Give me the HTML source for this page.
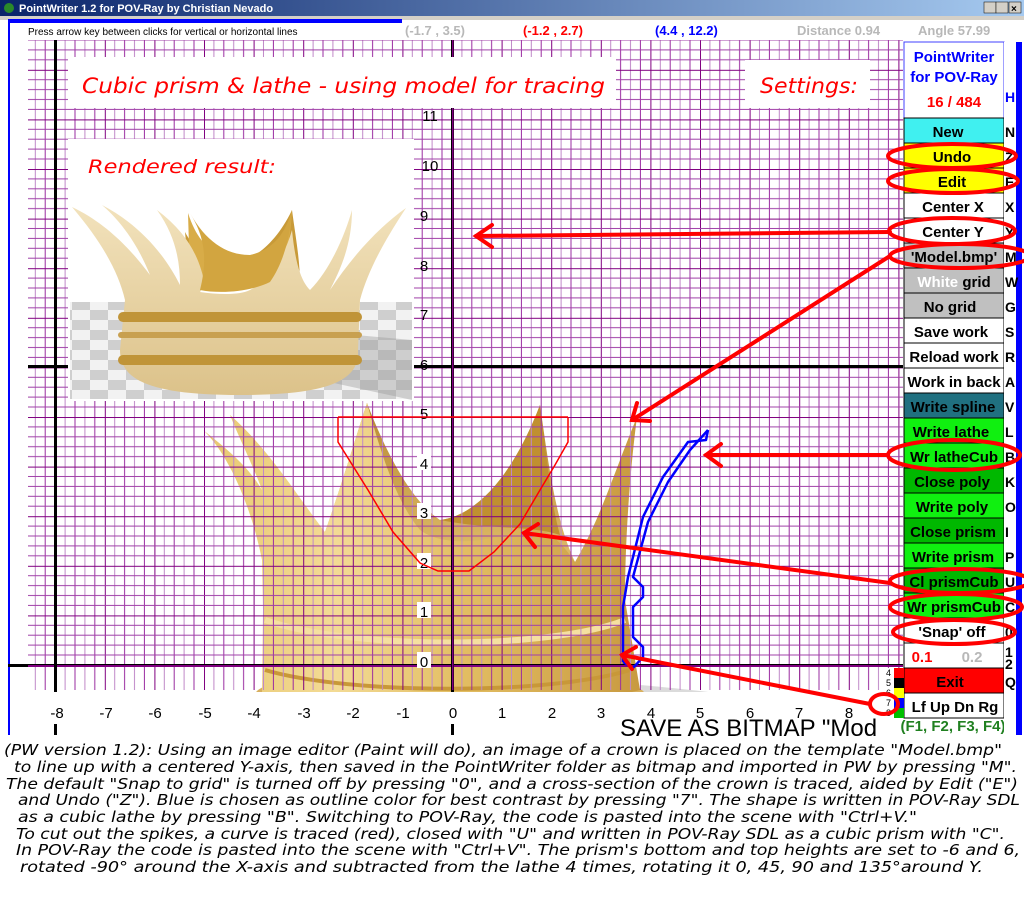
<!DOCTYPE html>
<html><head><meta charset="utf-8"><style>
html,body{margin:0;padding:0;background:#fff;}
svg{display:block}
</style></head><body>
<svg width="1024" height="900" viewBox="0 0 1024 900" xmlns="http://www.w3.org/2000/svg">
<defs>
<linearGradient id="tb" x1="0" x2="1"><stop offset="0" stop-color="#0a246a"/><stop offset="1" stop-color="#a6caf0"/></linearGradient>
<linearGradient id="gold" x1="0" y1="0" x2="1" y2="0"><stop offset="0" stop-color="#e8c870"/><stop offset="0.3" stop-color="#f3db95"/><stop offset="0.6" stop-color="#e2bd62"/><stop offset="1" stop-color="#c89a40"/></linearGradient>
<linearGradient id="goldv" x1="0" y1="0" x2="0" y2="1"><stop offset="0" stop-color="#b88a30"/><stop offset="1" stop-color="#e8c878"/></linearGradient>
<linearGradient id="gold2" x1="0" y1="0" x2="0" y2="1"><stop offset="0" stop-color="#f2e2bc"/><stop offset="1" stop-color="#dcc28a"/></linearGradient>
<pattern id="pv" patternUnits="userSpaceOnUse" x="5.6" y="0" width="49.6" height="900">
<rect x="-1" width="2" height="900" fill="#800080"/>
<rect x="9.4" width="1" height="900" fill="#c088c8"/>
<rect x="19.3" width="1" height="900" fill="#9a2ca0"/>
<rect x="29.2" width="1" height="900" fill="#c088c8"/>
<rect x="39.1" width="1" height="900" fill="#9a2ca0"/>
</pattern>
<pattern id="ph" patternUnits="userSpaceOnUse" x="0" y="20.2" width="1024" height="49.6">
<rect y="-1" width="1024" height="2" fill="#800080"/>
<rect y="9.4" width="1024" height="1" fill="#a040a8"/>
<rect y="19.3" width="1024" height="1" fill="#a040a8"/>
<rect y="29.2" width="1024" height="1" fill="#a040a8"/>
<rect y="39.1" width="1024" height="1" fill="#a040a8"/>
</pattern>
<pattern id="chk" patternUnits="userSpaceOnUse" width="36" height="20"><rect width="36" height="20" fill="#f2f2f2"/><rect width="18" height="10" fill="#cfcfcf"/><rect x="18" y="10" width="18" height="10" fill="#cfcfcf"/></pattern>
</defs>

<!-- title bar -->
<rect x="0" y="0" width="1024" height="16" fill="url(#tb)"/>
<circle cx="9" cy="8" r="5" fill="#2a8a2a"/>
<text x="19" y="12" font-family="Liberation Sans, sans-serif" font-weight="bold" font-size="11" fill="#fff">PointWriter 1.2 for POV-Ray by Christian Nevado</text>
<rect x="984" y="2" width="12" height="11" fill="#d4d0c8" stroke="#000" stroke-width="0.5"/>
<rect x="996" y="2" width="12" height="11" fill="#d4d0c8" stroke="#000" stroke-width="0.5"/>
<rect x="1009" y="2" width="12" height="11" fill="#d4d0c8" stroke="#000" stroke-width="0.5"/>
<text x="1011" y="12" font-family="Liberation Sans" font-size="10" font-weight="bold">×</text>
<rect x="0" y="16" width="1024" height="4" fill="#d4d0c8"/>
<rect x="8" y="19" width="394" height="4" fill="#0000ff"/>
<rect x="8" y="19" width="2" height="716" fill="#0000ff"/>

<!-- top texts -->
<text x="28" y="35" font-family="Liberation Sans, sans-serif" font-size="10" fill="#000">Press arrow key between clicks for vertical or horizontal lines</text>
<g font-family="Liberation Sans, sans-serif" font-weight="bold" font-size="13">
<text x="405" y="35" fill="#b8b8b8">(-1.7 , 3.5)</text>
<text x="523" y="35" fill="#ff0000">(-1.2 , 2.7)</text>
<text x="655" y="35" fill="#0000ff">(4.4 , 12.2)</text>
<text x="797" y="35" fill="#b8b8b8">Distance 0.94</text>
<text x="918" y="35" fill="#b8b8b8">Angle 57.99</text>
</g>

<!-- crown model (under grid) -->
<path d="M 640 685 C 700 690 770 700 770 700 L 650 715 Z" fill="#999" opacity="0.35"/>
<ellipse cx="450" cy="695" rx="195" ry="28" fill="#d8b060"/>
<path d="M 325 532 C 340 490 355 440 367 403 C 385 450 410 500 440 520 C 480 515 515 470 540 405 C 548 460 555 520 575 562 L 560 600 L 330 600 Z" fill="url(#goldv)"/>
<path d="M 263 610 L 262 560 C 250 500 225 450 203 430 C 235 455 250 470 262 490 C 255 470 240 440 230 415 C 270 450 300 500 325 532 C 340 490 355 440 367 403 C 380 450 395 500 420 530 C 440 545 480 545 520 530 C 540 520 560 540 575 562 C 600 520 615 470 637 417 C 630 470 625 540 625 600 L 640 690 C 560 712 330 712 262 695 Z" fill="url(#gold)"/>
<path d="M 440 520 C 480 515 515 470 540 405 C 546 450 550 500 560 535 C 530 525 490 530 440 520 Z" fill="#c09030"/>
<path d="M 265 620 C 350 650 550 650 625 620" stroke="#f5e0a0" stroke-width="6" fill="none"/>
<path d="M 265 670 C 350 695 550 695 630 670" stroke="#c89838" stroke-width="4" fill="none"/>

<!-- grid -->
<rect x="28" y="40" width="875" height="650" fill="url(#pv)"/>
<rect x="28" y="40" width="875" height="626" fill="url(#ph)"/>
<rect x="28" y="365" width="875" height="3" fill="#000"/>
<rect x="8" y="664" width="895" height="3" fill="#000"/>
<rect x="28" y="665" width="875" height="2" fill="#800080"/>
<rect x="54" y="40" width="3" height="695" fill="#000"/>
<rect x="451" y="40" width="3" height="695" fill="#000"/>
<rect x="452" y="40" width="1.5" height="650" fill="#800080"/>

<!-- label boxes -->
<rect x="28" y="692" width="875" height="32" fill="#fff"/>
<g font-family="Liberation Sans, sans-serif" font-size="15" text-anchor="middle" fill="#000">
<text x="57" y="718">-8</text><text x="106" y="718">-7</text><text x="155" y="718">-6</text><text x="205" y="718">-5</text><text x="254" y="718">-4</text><text x="304" y="718">-3</text><text x="353" y="718">-2</text><text x="403" y="718">-1</text><text x="453" y="718">0</text><text x="502" y="718">1</text><text x="552" y="718">2</text><text x="601" y="718">3</text><text x="651" y="718">4</text><text x="700" y="718">5</text><text x="750" y="718">6</text><text x="799" y="718">7</text><text x="849" y="718">8</text>
</g>
<g font-family="Liberation Sans, sans-serif" font-size="15" text-anchor="middle" fill="#000">
<rect x="417" y="652" width="14" height="16" fill="#fff"/><text x="424" y="667">0</text>
<rect x="417" y="602" width="14" height="16" fill="#fff"/><text x="424" y="617">1</text>
<rect x="417" y="553" width="14" height="16" fill="#fff"/><text x="424" y="568">2</text>
<rect x="417" y="503" width="14" height="16" fill="#fff"/><text x="424" y="518">3</text>
<rect x="417" y="454" width="14" height="16" fill="#fff"/><text x="424" y="469">4</text>
<text x="424" y="419">5</text><text x="424" y="370">6</text><text x="424" y="320">7</text><text x="424" y="271">8</text><text x="424" y="221">9</text>
<text x="430" y="171">10</text><text x="430" y="121">11</text><text x="430" y="72">12</text>
</g>
<text x="620" y="736" font-family="Liberation Sans, sans-serif" font-size="24" fill="#000">SAVE AS BITMAP "Mod</text>
<rect x="903" y="700" width="121" height="40" fill="#fff"/>

<!-- title banners -->
<rect x="68" y="57" width="548" height="51" fill="#fff"/>
<text x="82" y="93" font-family="DejaVu Sans, sans-serif" font-style="italic" font-size="21" fill="#ff0000" textLength="523" lengthAdjust="spacingAndGlyphs">Cubic prism &amp; lathe - using model for tracing</text>
<rect x="745" y="60" width="125" height="48" fill="#fff"/>
<text x="760" y="93" font-family="DejaVu Sans, sans-serif" font-style="italic" font-size="21" fill="#ff0000" textLength="98" lengthAdjust="spacingAndGlyphs">Settings:</text>

<!-- rendered result -->
<rect x="68" y="139" width="346" height="262" fill="#fff"/>
<rect x="70" y="302" width="342" height="97" fill="url(#chk)"/>
<path d="M 300 330 L 412 340 L 412 400 L 320 380 Z" fill="#999" opacity="0.4"/>
<text x="88" y="173" font-family="DejaVu Sans, sans-serif" font-style="italic" font-size="19" fill="#ff0000" textLength="188" lengthAdjust="spacingAndGlyphs">Rendered result:</text>
<path d="M 185 232 C 200 260 215 260 250 258 C 265 250 280 235 292 210 C 296 240 300 260 300 285 L 190 285 Z" fill="#c89a38"/>
<path d="M 188 213 C 200 250 220 260 250 260 C 270 255 285 240 292 210 C 290 245 285 270 270 280 L 190 280 Z" fill="#d8ac48"/>
<path d="M 125 300 C 118 270 100 240 72 207 C 110 225 135 255 150 275 C 140 250 125 225 102 205 C 140 225 165 255 180 285 C 180 260 175 235 157 210 C 190 235 200 260 205 285 L 200 292 C 220 295 240 295 250 290 C 270 280 285 255 292 230 C 295 260 300 280 310 290 C 330 270 345 235 352 210 C 352 245 340 270 330 290 C 350 260 375 230 406 208 C 385 240 368 270 360 300 L 358 350 C 360 380 330 395 240 395 C 150 395 120 380 120 350 Z" fill="url(#gold2)"/>
<path d="M 200 290 C 210 250 200 230 190 213 C 205 240 225 255 250 255 C 272 250 285 235 292 210 C 290 240 282 265 270 282 C 250 292 220 294 200 290 Z" fill="#d2a540"/>
<rect x="118" y="312" width="244" height="10" rx="5" fill="#c09438"/>
<rect x="118" y="332" width="244" height="6" rx="3" fill="#c8a050"/>
<rect x="118" y="355" width="244" height="10" rx="5" fill="#c09438"/>

<!-- red trace -->
<g stroke="#ff0000" stroke-width="1.5" fill="none">
<polyline points="338,417 568,417"/>
<polyline points="338,417 338,442 368,490 393,532 420,563 438,571 469,571 494,552 520,524 540,490 555,465 568,442 568,417"/>
</g>
<!-- blue trace -->
<g stroke="#0000ff" stroke-width="2.5" fill="none" stroke-linejoin="round">
<polyline points="623,662 633,668 643,657 643,647 633,637 633,607 643,597 643,587 633,577 648,522 668,482 690,450 708,430"/>
<polyline points="708,430 706,440 688,442 663,477 643,517 628,577 623,607 623,637 623,662"/>
</g>

<!-- right panel -->
<g font-family="Liberation Sans, sans-serif" font-weight="bold" font-size="15" text-anchor="middle">
<rect x="904" y="42" width="100" height="76" fill="#fff" stroke="#4040ff" stroke-width="1"/>
<text x="954" y="62" fill="#0000ff">PointWriter</text>
<text x="954" y="82" fill="#0000ff">for POV-Ray</text>
<text x="954" y="107" fill="#ff0000">16  /  484</text>
<rect x="904" y="118" width="100" height="25" fill="#40f0f0" stroke="#000"/><text x="948" y="137">New</text>
<rect x="904" y="143" width="100" height="25" fill="#ffff00" stroke="#000"/><text x="952" y="162">Undo</text>
<rect x="904" y="168" width="100" height="25" fill="#ffff00" stroke="#000"/><text x="952" y="187">Edit</text>
<rect x="904" y="193" width="100" height="25" fill="#fff" stroke="#000"/><text x="953" y="212">Center X</text>
<rect x="904" y="218" width="100" height="25" fill="#fff" stroke="#000"/><text x="953" y="237">Center Y</text>
<rect x="904" y="243" width="100" height="25" fill="#c0c0c0" stroke="#000"/><text x="954" y="262">'Model.bmp'</text>
<rect x="904" y="268" width="100" height="25" fill="#c0c0c0" stroke="#000"/><text x="954" y="287"><tspan fill="#fff">White</tspan>  grid</text>
<rect x="904" y="293" width="100" height="25" fill="#c0c0c0" stroke="#000"/><text x="950" y="312">No grid</text>
<rect x="904" y="318" width="100" height="25" fill="#fff" stroke="#000"/><text x="951" y="337">Save work</text>
<rect x="904" y="343" width="100" height="25" fill="#fff" stroke="#000"/><text x="954" y="362">Reload work</text>
<rect x="904" y="368" width="100" height="25" fill="#fff" stroke="#000"/><text x="954" y="387">Work in back</text>
<rect x="904" y="393" width="100" height="25" fill="#207080" stroke="#000"/><text x="953" y="412">Write spline</text>
<rect x="904" y="418" width="100" height="25" fill="#10f010" stroke="#000"/><text x="951" y="437">Write lathe</text>
<rect x="904" y="443" width="100" height="25" fill="#10f010" stroke="#000"/><text x="954" y="462">Wr latheCub</text>
<rect x="904" y="468" width="100" height="25" fill="#00b800" stroke="#000"/><text x="952" y="487">Close poly</text>
<rect x="904" y="493" width="100" height="25" fill="#10f010" stroke="#000"/><text x="952" y="512">Write poly</text>
<rect x="904" y="518" width="100" height="25" fill="#00b800" stroke="#000"/><text x="953" y="537">Close prism</text>
<rect x="904" y="543" width="100" height="25" fill="#10f010" stroke="#000"/><text x="953" y="562">Write prism</text>
<rect x="904" y="568" width="100" height="25" fill="#00b800" stroke="#000"/><text x="954" y="587">Cl prismCub</text>
<rect x="904" y="593" width="100" height="25" fill="#10f010" stroke="#000"/><text x="954" y="612">Wr prismCub</text>
<rect x="904" y="618" width="100" height="25" fill="#fff" stroke="#000"/><text x="952" y="637">'Snap' off</text>
<rect x="904" y="643" width="100" height="25" fill="#fff" stroke="#000"/><text x="922" y="662" fill="#ff0000">0.1</text><text x="972" y="662" fill="#b8b8b8">0.2</text>
<rect x="904" y="668" width="100" height="25" fill="#ff0000" stroke="#000"/><text x="950" y="687">Exit</text>
<rect x="904" y="693" width="100" height="25" fill="#fff" stroke="#000"/><text x="955" y="712">Lf Up Dn Rg</text>
<text x="953" y="731" fill="#208020">(F1, F2, F3, F4)</text>
</g>
<rect x="1004" y="42" width="12" height="693" fill="#fff"/>
<rect x="1016" y="42" width="6" height="693" fill="#0000ff"/>
<g font-family="Liberation Sans, sans-serif" font-weight="bold" font-size="14" fill="#000">
<text x="1005" y="102" fill="#0000ff">H</text>
<text x="1005" y="137">N</text><text x="1005" y="162">Z</text><text x="1005" y="187">E</text><text x="1005" y="212">X</text><text x="1005" y="237">Y</text><text x="1005" y="262">M</text><text x="1005" y="287">W</text><text x="1005" y="312">G</text><text x="1005" y="337">S</text><text x="1005" y="362">R</text><text x="1005" y="387">A</text><text x="1005" y="412">V</text><text x="1005" y="437">L</text><text x="1005" y="462">B</text><text x="1005" y="487">K</text><text x="1005" y="512">O</text><text x="1005" y="537">I</text><text x="1005" y="562">P</text><text x="1005" y="587">U</text><text x="1005" y="612">C</text><text x="1005" y="637">0</text><text x="1005" y="657">1</text><text x="1005" y="669">2</text><text x="1005" y="687">Q</text>
</g>
<!-- color swatches -->
<rect x="880" y="668" width="24" height="50" fill="#fff"/>
<g font-family="Liberation Sans, sans-serif" font-size="9" fill="#000">
<text x="886" y="676">4</text><text x="886" y="686">5</text><text x="886" y="696">6</text><text x="886" y="706">7</text><text x="886" y="716">8</text>
</g>
<rect x="894" y="668" width="10" height="10" fill="#ff0000"/>
<rect x="894" y="678" width="10" height="10" fill="#000"/>
<rect x="894" y="688" width="10" height="10" fill="#ffff00"/>
<rect x="894" y="698" width="10" height="10" fill="#0000ff"/>
<rect x="894" y="708" width="10" height="10" fill="#00c000"/>

<!-- red ellipses -->
<g stroke="#ff0000" stroke-width="4" fill="none">
<ellipse cx="952" cy="156" rx="64" ry="12"/>
<ellipse cx="953" cy="181" rx="65" ry="12"/>
<ellipse cx="952" cy="231" rx="63" ry="13"/>
<ellipse cx="960" cy="256" rx="70" ry="12"/>
<ellipse cx="954" cy="455" rx="66" ry="15"/>
<ellipse cx="960" cy="581" rx="70" ry="12"/>
<ellipse cx="956" cy="607" rx="66" ry="13"/>
<ellipse cx="954" cy="632" rx="61" ry="12"/>
<ellipse cx="884" cy="704" rx="14" ry="10"/>
</g>
<!-- red arrows -->
<g stroke="#ff0000" stroke-width="4" fill="none" stroke-linecap="round">
<line x1="890" y1="232" x2="476" y2="236"/><polyline points="492,225 476,236 492,247"/>
<line x1="890" y1="256" x2="632" y2="420"/><polyline points="637,403 632,420 650,421"/>
<line x1="888" y1="455" x2="706" y2="455"/><polyline points="721,444 706,455 721,466"/>
<line x1="890" y1="583" x2="524" y2="533"/><polyline points="538,524 524,533 535,547"/>
<line x1="870" y1="704" x2="622" y2="655"/><polyline points="636,647 622,655 632,669"/>
</g>

<!-- bottom text -->
<rect x="0" y="738" width="1024" height="162" fill="#fff"/>
<g font-family="DejaVu Sans, sans-serif" font-style="italic" font-size="15.5" fill="#000">
<text x="4" y="755" textLength="998" lengthAdjust="spacingAndGlyphs">(PW version 1.2): Using an image editor (Paint will do), an image of a crown is placed on the template "Model.bmp"</text>
<text x="14" y="772" textLength="1003" lengthAdjust="spacingAndGlyphs">to line up with a centered Y-axis, then saved in the PointWriter folder as bitmap and imported in PW by pressing "M".</text>
<text x="6" y="789" textLength="1012" lengthAdjust="spacingAndGlyphs">The default "Snap to grid" is turned off by pressing "0", and a cross-section of the crown is traced, aided by Edit ("E")</text>
<text x="18" y="805" textLength="1002" lengthAdjust="spacingAndGlyphs">and Undo ("Z"). Blue is chosen as outline color for best contrast by pressing "7". The shape is written in POV-Ray SDL</text>
<text x="18" y="822" textLength="899" lengthAdjust="spacingAndGlyphs">as a cubic lathe by pressing "B". Switching to POV-Ray, the code is pasted into the scene with "Ctrl+V."</text>
<text x="16" y="839" textLength="989" lengthAdjust="spacingAndGlyphs">To cut out the spikes, a curve is traced (red), closed with "U" and written in POV-Ray SDL as a cubic prism with "C".</text>
<text x="16" y="855" textLength="1004" lengthAdjust="spacingAndGlyphs">In POV-Ray the code is pasted into the scene with "Ctrl+V". The prism's bottom and top heights are set to -6 and 6,</text>
<text x="20" y="872" textLength="963" lengthAdjust="spacingAndGlyphs">rotated -90° around the X-axis and subtracted from the lathe 4 times, rotating it 0, 45, 90 and 135°around Y.</text>
</g>
</svg>
</body></html>
